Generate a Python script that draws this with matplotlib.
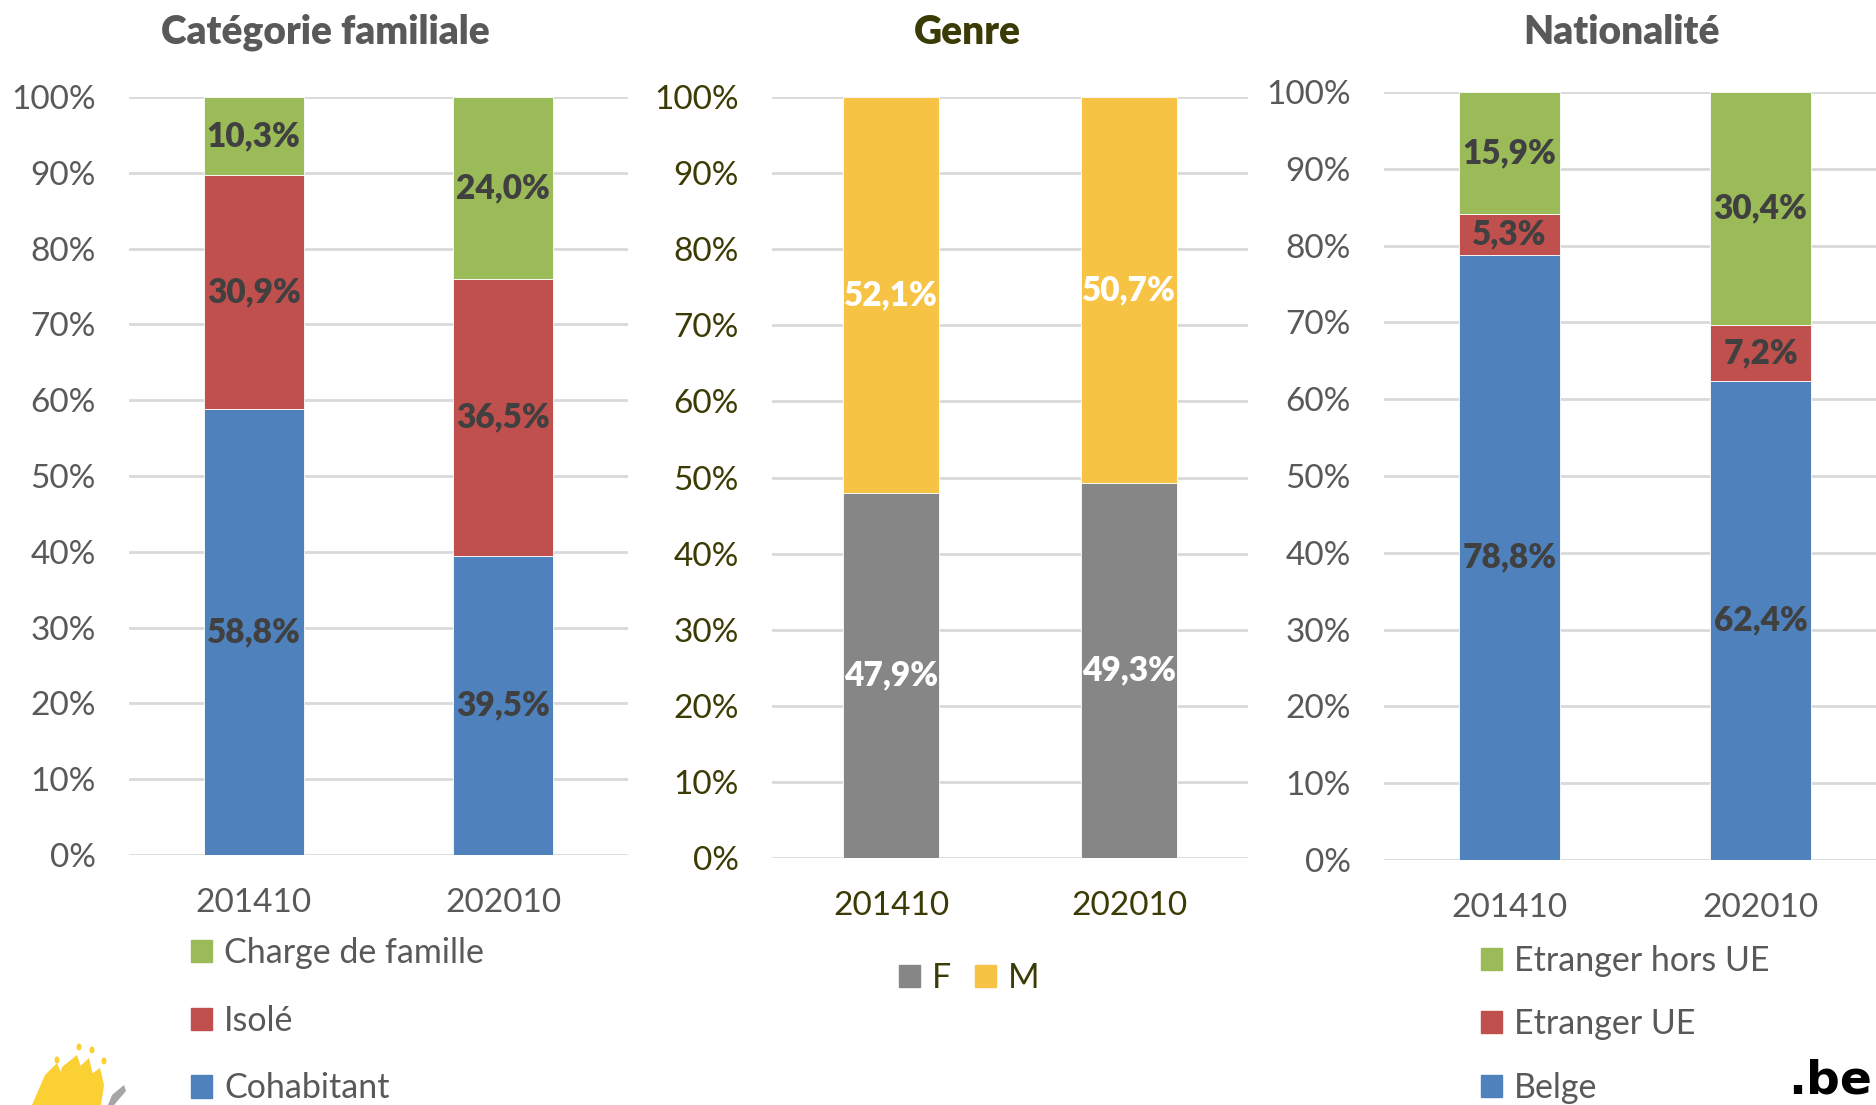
import matplotlib.pyplot as plt
import numpy as np
from matplotlib.patches import Patch, Ellipse, Polygon
from matplotlib.ticker import FuncFormatter

plt.rcParams['font.family'] = ['Lato', 'DejaVu Sans']

# Data
periods = ["201410", "202010"]

famille_labels = ["Cohabitant", "Isolé", "Charge de famille"]
cohabitant = [58.8, 39.5]
isole = [30.9, 36.5]
charge = [10.3, 24.0]

genre_labels = ["F", "M"]
femmes = [47.9, 49.3]
hommes = [52.1, 50.7]

nat_labels = ["Belge", "Etranger UE", "Etranger hors UE"]
belge = [78.8, 62.4]
etr_ue = [5.3, 7.2]
etr_hors_ue = [15.9, 30.4]

# Colours (Office palette)
blue = '#4f81bd'
red = '#c0504d'
green = '#9bbb59'
grey = '#868686'
yellow = '#f6c344'
txt_grey = '#595959'
txt_olive = '#3b3b05'
lbl_dark = '#404040'

W, H = 1876, 1105
fig = plt.figure(figsize=(W / 100, H / 100), dpi=100)


def px_axes(left, top, right, bottom):
    return fig.add_axes([left / W, 1 - bottom / H, (right - left) / W, (bottom - top) / H])


def pct(v, pos):
    return f"{v:.0f}%"


def stacked(ax, series, colors, label_color, tick_color, title, title_color, title_x):
    x = np.arange(len(periods))
    bottom = np.zeros(len(periods))
    for vals, col in zip(series, colors):
        vals = np.array(vals)
        ax.bar(x, vals, 0.4, bottom=bottom, color=col, edgecolor='white',
               linewidth=0.6, zorder=3)
        for xi, b, v in zip(x, bottom, vals):
            ax.text(xi, b + v / 2, f"{v:.1f}%".replace('.', ','), ha='center',
                    va='center', fontsize=24, fontweight='heavy', color=label_color,
                    zorder=4)
        bottom += vals
    ax.set_xlim(-0.5, 1.5)
    ax.set_ylim(0, 100)
    ax.set_yticks(np.arange(0, 101, 10))
    ax.yaxis.set_major_formatter(FuncFormatter(pct))
    ax.set_xticks(x)
    ax.set_xticklabels(periods)
    ax.grid(axis='y', color='#d9d9d9', linewidth=2, zorder=0)
    for s in ax.spines.values():
        s.set_visible(False)
    ax.tick_params(axis='y', length=0, pad=24, labelsize=24, labelcolor=tick_color)
    ax.tick_params(axis='x', length=0, pad=24, labelsize=24, labelcolor=tick_color)
    fig.text(title_x / W, 1 - 32 / H, title, ha='center', va='center', fontsize=28,
             fontweight='heavy', color=title_color)


ax1 = px_axes(129, 97, 628, 855)
stacked(ax1, [cohabitant, isole, charge], [blue, red, green], lbl_dark,
        txt_grey, "Catégorie familiale", txt_grey, 325)

ax2 = px_axes(772, 97, 1248, 858)
stacked(ax2, [femmes, hommes], [grey, yellow], 'white',
        txt_olive, "Genre", txt_olive, 967)

ax3 = px_axes(1384, 92, 1886, 860)
stacked(ax3, [belge, etr_ue, etr_hors_ue], [blue, red, green], lbl_dark,
        txt_grey, "Nationalité", txt_grey, 1621)

# Legends
h1 = [Patch(color=c, label=l) for c, l in zip([green, red, blue], famille_labels[::-1])]
fig.legend(handles=h1, loc='upper left', bbox_to_anchor=(191 / W, 1 - 937 / H),
           frameon=False, fontsize=24.5, labelcolor=txt_grey, handlelength=0.62,
           handleheight=0.62, handletextpad=0.35, labelspacing=1.05, borderpad=0,
           borderaxespad=0)

h2 = [Patch(color=c, label=l) for c, l in zip([grey, yellow], genre_labels)]
fig.legend(handles=h2, loc='upper left', bbox_to_anchor=(899 / W, 1 - 962 / H),
           frameon=False, fontsize=24.5, labelcolor=txt_olive, ncol=2,
           handlelength=0.62, handleheight=0.62, handletextpad=0.35,
           columnspacing=0.7, borderpad=0, borderaxespad=0)

h3 = [Patch(color=c, label=l) for c, l in zip([green, red, blue], nat_labels[::-1])]
fig.legend(handles=h3, loc='upper left', bbox_to_anchor=(1481 / W, 1 - 945 / H),
           frameon=False, fontsize=24.5, labelcolor=txt_grey, handlelength=0.62,
           handleheight=0.62, handletextpad=0.35, labelspacing=0.92, borderpad=0,
           borderaxespad=0)

# Logo bottom-left (rough sketch)
logo = px_axes(0, 1020, 140, 1105)
logo.set_xlim(0, 140)
logo.set_ylim(0, 85)
logo.axis('off')
for pts in [[(32, 0), (45, 30), (57, 42), (62, 30), (58, 0)],
            [(50, 0), (62, 38), (77, 50), (82, 35), (76, 0)],
            [(66, 0), (76, 35), (89, 47), (93, 30), (88, 0)],
            [(82, 0), (90, 30), (100, 37), (104, 20), (101, 0)]]:
    logo.add_patch(Polygon(pts, closed=True, color='#fbd033', lw=0))
for cx, cy in [(57, 45), (79, 58), (92, 55), (104, 44)]:
    logo.add_patch(Ellipse((cx, cy), 5, 7, color='#fbd033', lw=0))
logo.add_patch(Polygon([(108, 0), (112, 10), (124, 20), (126, 14), (114, 0)],
                       closed=True, color='#a6a6a6', lw=0))

# .be logo bottom-right
fig.text(1872 / W, 1 - 1094 / H, ".be", ha='right', va='baseline', fontsize=34,
         fontweight='bold', color='black', family='DejaVu Sans')

plt.savefig('out.png', dpi=100)
